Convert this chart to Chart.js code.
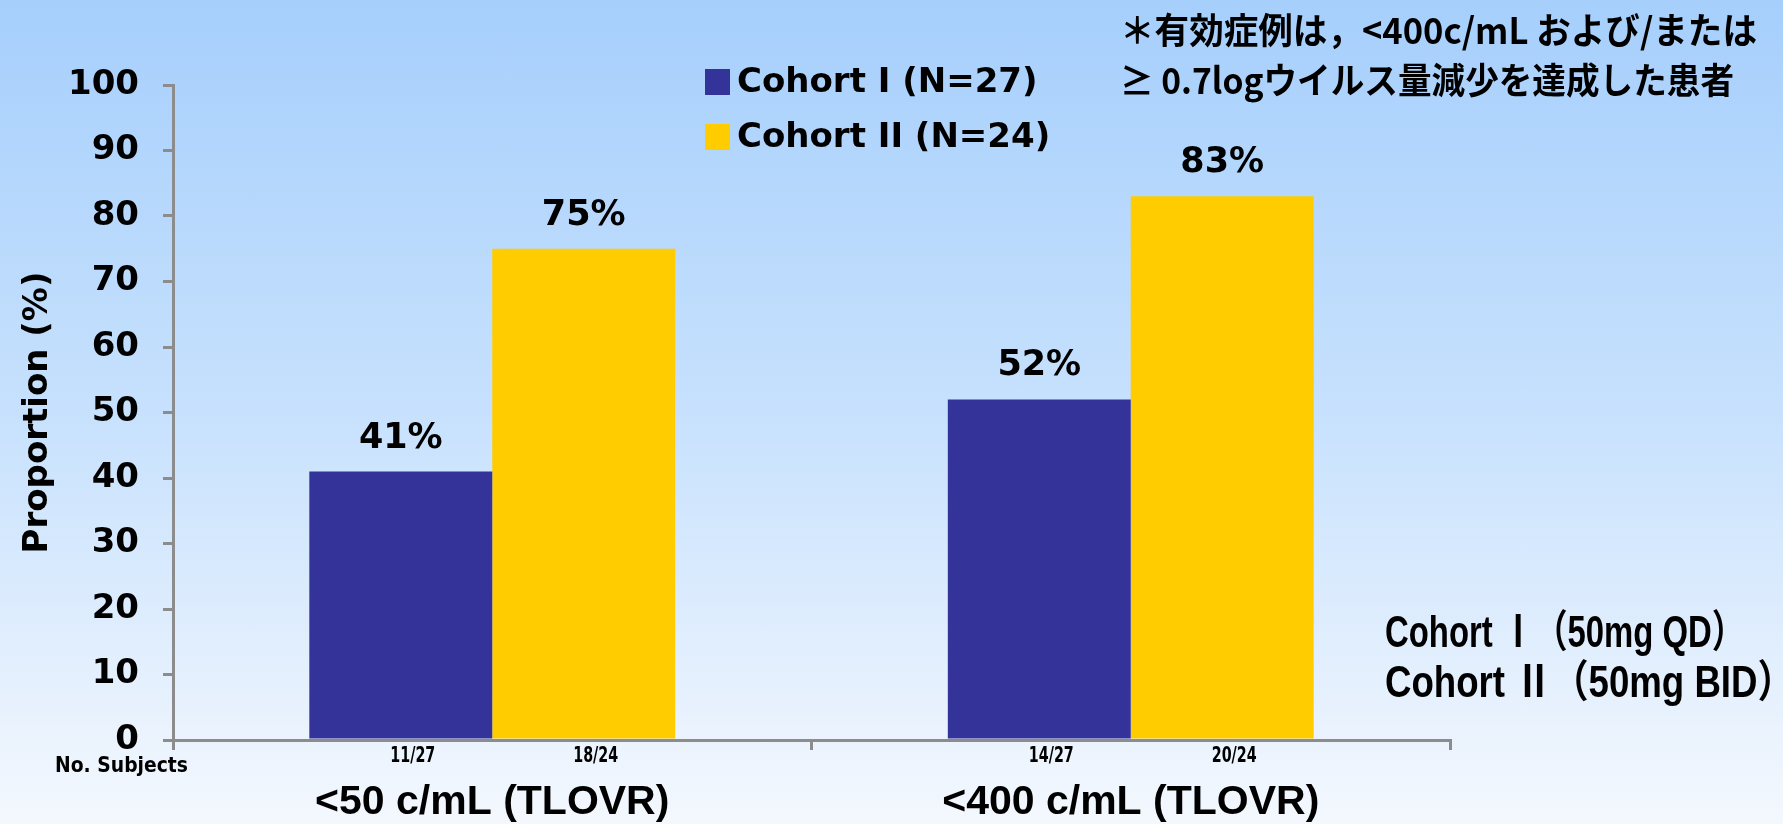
<!DOCTYPE html>
<html><head><meta charset="utf-8">
<script src="https://cdn.jsdelivr.net/npm/chart.js@4.4.1/dist/chart.umd.min.js"></script>
<style>
html,body{margin:0;padding:0;}
body{width:1783px;height:824px;overflow:hidden;background:linear-gradient(to bottom,#a6cffc 0%,#c7e1fd 50%,#f4f8fe 100%);}
canvas{display:block;}
</style></head><body>
<canvas id="c" width="1783" height="824"></canvas>
<script>
const categories = ['<50 c/mL (TLOVR)', '<400 c/mL (TLOVR)'];
const seriesNames = ['Cohort I (N=27)', 'Cohort II (N=24)'];
const cohort1Values = [41, 52];
const cohort2Values = [75, 83];
const cohort1Subjects = ['11/27', '14/27'];
const cohort2Subjects = ['18/24', '20/24'];
const yMin = 0, yMax = 100, yStep = 10;
const yAxisTitle = 'Proportion (%)';
const subjectsLabel = 'No. Subjects';
const noteLines = ['＊有効症例は，<400c/mL および/または', '≥ 0.7logウイルス量減少を達成した患者'];
const doseLines = ['Cohort Ⅰ（50mg QD）', 'Cohort Ⅱ（50mg BID）'];

const subjects = [cohort1Subjects, cohort2Subjects];
const AXIS = '#8c8c8c';

function drawFit(ctx, text, x, y, visW) {
  const m = ctx.measureText(text);
  const vis = m.actualBoundingBoxRight;
  const sx = visW / vis;
  ctx.save();
  ctx.translate(x, y);
  ctx.scale(sx, 1);
  ctx.fillText(text, 0, 0);
  ctx.restore();
}

const annot = {
  id: 'annot',
  afterDatasetsDraw(chart) {
    const ctx = chart.ctx;
    const ca = chart.chartArea;
    ctx.save();
    ctx.fillStyle = '#000';
    chart.data.datasets.forEach((ds, i) => {
      const meta = chart.getDatasetMeta(i);
      meta.data.forEach((bar, j) => {
        ctx.font = 'bold 35px "DejaVu Sans"';
        ctx.textAlign = 'center'; ctx.textBaseline = 'middle';
        ctx.fillText(ds.data[j] + '%', bar.x, bar.y - 33);
        ctx.font = 'bold 21px "DejaVu Sans"';
        ctx.fillText(subjects[i][j], bar.x + 12, ca.bottom + 17, 45);
      });
    });
    ctx.font = 'bold 21px "DejaVu Sans"';
    ctx.textAlign = 'left'; ctx.textBaseline = 'middle';
    ctx.fillText(subjectsLabel, 55, ca.bottom + 27, 133);

    // legend
    const rows = [82, 137];
    chart.data.datasets.forEach((ds, i) => {
      ctx.fillStyle = ds.backgroundColor;
      ctx.fillRect(705, rows[i] - 13, 25, 26);
      ctx.fillStyle = '#000';
      ctx.font = 'bold 34px "DejaVu Sans"';
      ctx.textAlign = 'left'; ctx.textBaseline = 'middle';
      ctx.fillText(ds.label, 737, rows[i] + 1);
    });

    // notes
    ctx.font = 'bold 36px "Noto Sans CJK JP"';
    ctx.textAlign = 'left'; ctx.textBaseline = 'middle';
    ctx.fillText(noteLines[0], 1120, 30, 637);
    ctx.fillText(noteLines[1], 1120, 80, 614);

    ctx.font = 'bold 44px "Liberation Sans", "Noto Sans CJK JP"';
    drawFit(ctx, doseLines[0], 1385, 635, 338);
    drawFit(ctx, doseLines[1], 1385, 685, 385);
    ctx.restore();
  }
};

new Chart(document.getElementById('c'), {
  type: 'bar',
  data: {
    labels: categories,
    datasets: [
      { label: seriesNames[0], data: cohort1Values, backgroundColor: '#333399', borderWidth: 0 },
      { label: seriesNames[1], data: cohort2Values, backgroundColor: '#ffcc00', borderWidth: 0 }
    ]
  },
  options: {
    responsive: false,
    animation: false,
    layout: { padding: { top: 85, right: 333, bottom: 0, left: 0 } },
    datasets: { bar: { categoryPercentage: 0.573, barPercentage: 1.0 } },
    plugins: { legend: { display: false }, tooltip: { enabled: false }, title: { display: false } },
    scales: {
      x: {
        afterFit(s) { s.height = 84; },
        grid: { offset: true, drawOnChartArea: false, drawTicks: true, tickLength: 10, color: AXIS, lineWidth: 3 },
        border: { display: true, color: AXIS, width: 3 },
        ticks: { color: '#000', font: { family: 'Liberation Sans', size: 41, weight: 'bold' }, padding: 28, autoSkip: false, maxRotation: 0 }
      },
      y: {
        min: yMin, max: yMax,
        afterFit(s) { s.width = 173; },
        grid: { drawOnChartArea: false, drawTicks: true, tickLength: 10, color: AXIS, lineWidth: 3 },
        border: { display: true, color: AXIS, width: 3 },
        ticks: { stepSize: yStep, color: '#000', font: { family: 'DejaVu Sans', size: 34, weight: 'bold' }, padding: 24 },
        title: { display: true, text: yAxisTitle, color: '#000', font: { family: 'DejaVu Sans', size: 34, weight: 'bold' }, padding: { top: 18, bottom: 0 } }
      }
    }
  },
  plugins: [annot]
});
</script>
</body></html>
